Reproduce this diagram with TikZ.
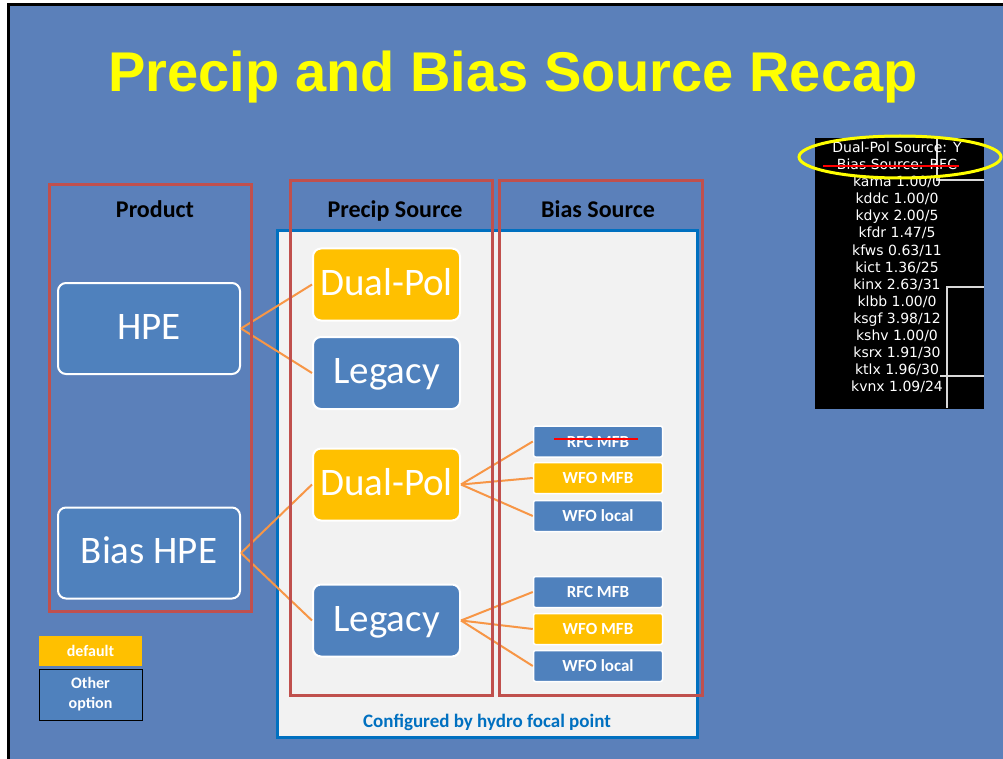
\documentclass[tikz,border=0pt]{standalone}
\usepackage{fontspec}
\setmainfont{Carlito}
\newfontfamily\arialfont{Liberation Sans}
\newfontfamily\dejavu{DejaVu Sans}
\definecolor{slideblue}{RGB}{91,128,186}
\definecolor{nodeblue}{RGB}{79,129,189}
\definecolor{gold}{RGB}{255,192,0}
\definecolor{boxred}{RGB}{192,80,77}
\definecolor{frameblue}{RGB}{0,112,192}
\definecolor{lightgrey}{RGB}{242,242,242}
\definecolor{conorange}{RGB}{247,150,70}
\definecolor{titleyellow}{RGB}{255,255,0}
\begin{document}
\begin{tikzpicture}[x=1pt,y=-1pt,
  bigbox/.style={draw=white, line width=2pt, rounded corners=8pt, text=white,
    font=\fontsize{39}{39}\selectfont, inner sep=0pt, minimum width=147pt,
    minimum height=72pt, text height=27pt, text depth=6pt},
  prodbox/.style={bigbox, fill=nodeblue, minimum width=182pt, minimum height=91pt},
  bluebig/.style={bigbox, fill=nodeblue},
  goldbig/.style={bigbox, fill=gold},
  smallbox/.style={draw=white, line width=1.5pt, rounded corners=2pt, text=white,
    font=\bfseries\fontsize{17}{17}\selectfont, minimum width=129pt,
    minimum height=31pt, inner sep=0pt, text height=11pt, text depth=0pt},
  bluesmall/.style={smallbox, fill=nodeblue},
  goldsmall/.style={smallbox, fill=gold},
  header/.style={font=\bfseries\fontsize{24}{24}\selectfont, text=black, inner sep=0pt, anchor=base},
  connector/.style={draw=conorange, line width=2pt},
  redbox/.style={draw=boxred, line width=3pt},
  insettext/.style={font=\dejavu\fontsize{14}{14}\selectfont, text=white, inner sep=0pt,
    text height=10pt, text depth=3pt},
  strike/.style={draw=red, line width=2pt},
  legend/.style={text=white, font=\bfseries\fontsize{16}{20}\selectfont, inner sep=0pt,
    minimum width=103pt, align=center}
]
\useasboundingbox (0,0) rectangle (1003,759);
\fill[white] (0,0) rectangle (1003,759);
\fill[slideblue] (8,5) rectangle (1003,759);
\draw[black, line width=3pt] (8,759) -- (8,5) -- (1003,5);

% title
\node[font=\arialfont\bfseries\fontsize{56}{56}\selectfont, text=titleyellow, inner sep=0pt, anchor=base]
  (title) at (513,92) {Precip and Bias Source Recap};

% configured frame
\draw[fill=lightgrey, draw=frameblue, line width=3pt] (277,231) rectangle (697,737);
\node[text=frameblue, font=\bfseries\fontsize{19}{19}\selectfont, inner sep=0pt, anchor=base]
  (configured) at (487,727) {Configured by hydro focal point};

% headers
\node[header] (hprod) at (155,218) {Product};
\node[header] (hprecip) at (395,218) {Precip Source};
\node[header] (hbias) at (598,218) {Bias Source};

% product nodes
\node[prodbox] (hpe) at (149,328.5) {HPE};
\node[prodbox] (biashpe) at (149,553) {Bias HPE};

% precip source nodes
\node[goldbig] (dp1) at (386.5,284.5) {Dual-Pol};
\node[bluebig] (leg1) at (386.5,373) {Legacy};
\node[goldbig] (dp2) at (386.5,484.5) {Dual-Pol};
\node[bluebig] (leg2) at (386.5,620.5) {Legacy};

% bias source nodes
\node[bluesmall] (rfc1) at (598,441.5) {RFC MFB};
\node[goldsmall] (wfo1) at (598,478) {WFO MFB};
\node[bluesmall] (loc1) at (598,516) {WFO local};
\node[bluesmall] (rfc2) at (598,592) {RFC MFB};
\node[goldsmall] (wfo2) at (598,629) {WFO MFB};
\node[bluesmall] (loc2) at (598,666) {WFO local};
\draw[strike, line width=2.5pt] (554,439) -- (638,439);

% connectors
\draw[connector] (hpe.east) -- (dp1.west);
\draw[connector] (hpe.east) -- (leg1.west);
\draw[connector] (biashpe.east) -- (dp2.west);
\draw[connector] (biashpe.east) -- (leg2.west);
\draw[connector] (dp2.east) -- (rfc1.west);
\draw[connector] (dp2.east) -- (wfo1.west);
\draw[connector] (dp2.east) -- (loc1.west);
\draw[connector] (leg2.east) -- (rfc2.west);
\draw[connector] (leg2.east) -- (wfo2.west);
\draw[connector] (leg2.east) -- (loc2.west);

% red column boxes
\draw[redbox] (49,185) rectangle (251,611);
\draw[redbox] (290,181) rectangle (492,695);
\draw[redbox] (499,181) rectangle (702,695);

% legend
\node[legend, fill=gold, minimum height=30pt] (ldefault) at (90.5,651) {default};
\node[legend, fill=nodeblue, draw=black, line width=1pt, minimum height=51pt] (lother) at (90.5,694.5) {Other\\option};

% inset
\fill[black] (815,138) rectangle (984,409);
\draw[white!85!black, line width=1.2pt] (937,138) -- (937,180) -- (984,180);
\draw[white!85!black, line width=1.2pt] (984,287) -- (947,287) -- (947,408);
\draw[white!85!black, line width=1.2pt] (940,376) -- (984,376);
\foreach \t [count=\i from 0] in {Dual-Pol Source: Y, Bias Source: RFC, kama 1.00/0, kddc 1.00/0,
  kdyx 2.00/5, kfdr 1.47/5, kfws 0.63/11, kict 1.36/25, kinx 2.63/31, klbb 1.00/0,
  ksgf 3.98/12, kshv 1.00/0, ksrx 1.91/30, ktlx 1.96/30, kvnx 1.09/24}
  \node[insettext] (inset\i) at (897,{149+17.1*\i}) {\t};
\draw[strike] (823,166) -- (959,166);
\draw[titleyellow, line width=3pt] (900,157) ellipse [x radius=101, y radius=21];
\end{tikzpicture}
\end{document}
